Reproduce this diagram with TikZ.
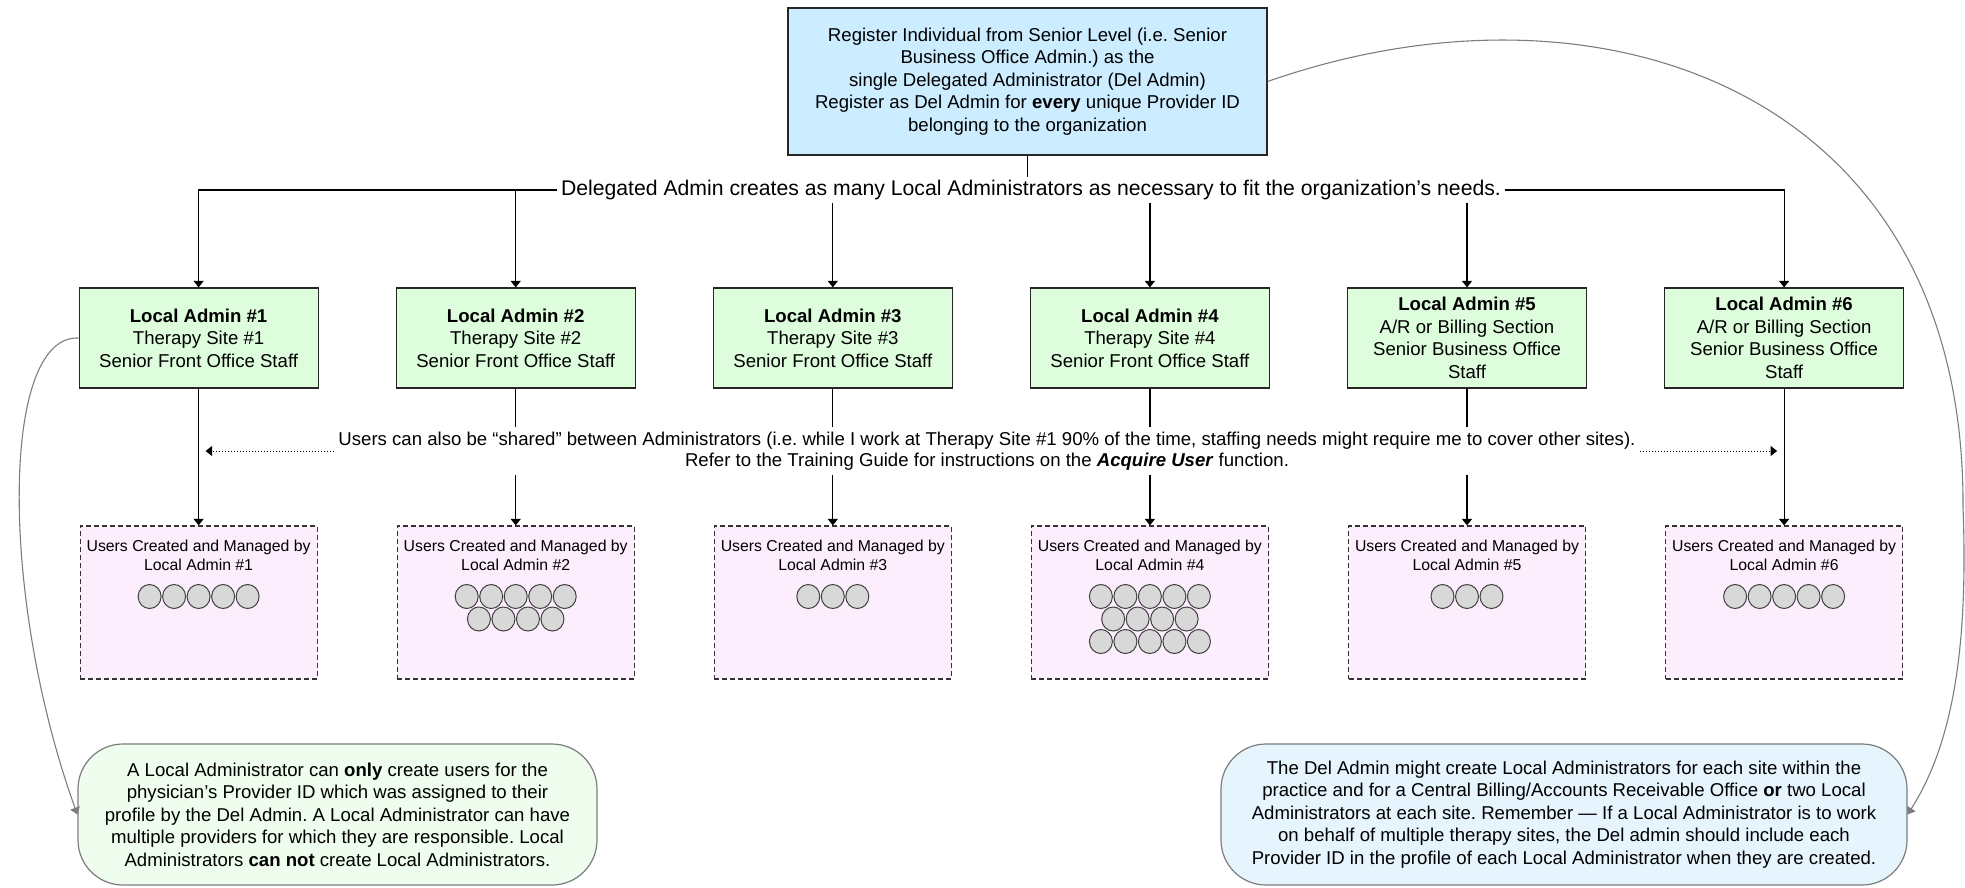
\documentclass[tikz,border=0pt]{standalone}
\usepackage{fontspec}
\setmainfont{Liberation Sans}
\usetikzlibrary{arrows.meta}
\definecolor{delblue}{RGB}{204,236,255}
\definecolor{localgreen}{RGB}{221,253,221}
\definecolor{userpink}{RGB}{253,238,253}
\definecolor{usergray}{RGB}{216,216,216}
\definecolor{notegreen}{RGB}{238,253,238}
\definecolor{noteblue}{RGB}{230,244,253}
\definecolor{curvegray}{RGB}{125,125,125}
\newcommand{\mainfs}{\fontsize{18.6pt}{22.5pt}\selectfont}
\newcommand{\smallfs}{\fontsize{15.8pt}{19pt}\selectfont}
\newcommand{\bigfs}{\fontsize{21.2pt}{25pt}\selectfont}
\frenchspacing
\tikzset{
 arr/.style={-{Triangle[width=10pt,length=6.5pt]}},
 delbox/.style={draw=black!85,fill=delblue,minimum width=479pt,minimum height=147pt,align=center,font=\mainfs},
 localbox/.style={draw=black!85,fill=localgreen,minimum width=239pt,minimum height=100pt,align=center,font=\mainfs,inner sep=2pt},
 userbox/.style={draw=black!80,dash pattern=on 5pt off 3pt,fill=userpink,minimum width=237pt,minimum height=153pt},
 usertext/.style={align=center,font=\smallfs,inner sep=0pt},
 usr/.style={draw=black!75,fill=usergray,line width=1pt},
 note/.style={draw=curvegray,rounded corners=45pt,align=center,font=\mainfs,minimum height=141pt},
 curve/.style={draw=curvegray,line width=1.1pt,-{Triangle[width=10pt,length=7pt]}}
}
\begin{document}
\begin{tikzpicture}[x=1pt,y=-1pt,line width=1.2pt]
 \useasboundingbox (0,0) rectangle (1965,887);
 \node[delbox] (del) at (1027.5,81.5) {Register Individual from Senior Level (i.e. Senior\\Business Office Admin.) as the\\single Delegated Administrator (Del Admin)\\Register as Del Admin for \textbf{every} unique Provider ID\\belonging to the organization};
 \node[font=\bigfs,inner sep=3pt] (creates) at (1031,190) {Delegated Admin creates as many Local Administrators as necessary to fit the organization’s needs.};

 \node[localbox] (la1) at (198.6,338) {\textbf{Local Admin \#1}\\Therapy Site \#1\\Senior Front Office Staff};
 \node[localbox] (la2) at (515.7,338) {\textbf{Local Admin \#2}\\Therapy Site \#2\\Senior Front Office Staff};
 \node[localbox] (la3) at (832.8,338) {\textbf{Local Admin \#3}\\Therapy Site \#3\\Senior Front Office Staff};
 \node[localbox] (la4) at (1149.9,338) {\textbf{Local Admin \#4}\\Therapy Site \#4\\Senior Front Office Staff};
 \node[localbox] (la5) at (1467,338) {\textbf{Local Admin \#5}\\A/R or Billing Section\\Senior Business Office\\Staff};
 \node[localbox] (la6) at (1784.1,338) {\textbf{Local Admin \#6}\\A/R or Billing Section\\Senior Business Office\\Staff};

 \node[userbox] (ub1) at (198.6,602.5) {};
 \node[userbox] (ub2) at (515.7,602.5) {};
 \node[userbox] (ub3) at (832.8,602.5) {};
 \node[userbox] (ub4) at (1149.9,602.5) {};
 \node[userbox] (ub5) at (1467,602.5) {};
 \node[userbox] (ub6) at (1784.1,602.5) {};
 \node[usertext] (ut1) at (198.6,555.5) {Users Created and Managed by\\Local Admin \#1};
 \node[usertext] (ut2) at (515.7,555.5) {Users Created and Managed by\\Local Admin \#2};
 \node[usertext] (ut3) at (832.8,555.5) {Users Created and Managed by\\Local Admin \#3};
 \node[usertext] (ut4) at (1149.9,555.5) {Users Created and Managed by\\Local Admin \#4};
 \node[usertext] (ut5) at (1467,555.5) {Users Created and Managed by\\Local Admin \#5};
 \node[usertext] (ut6) at (1784.1,555.5) {Users Created and Managed by\\Local Admin \#6};

 \foreach \k in {-2,...,2} \draw[usr] (198.6+24.5*\k,596.5) ellipse [x radius=11.5pt,y radius=12pt];
 \foreach \k in {-2,...,2} \draw[usr] (515.7+24.5*\k,596.5) ellipse [x radius=11.5pt,y radius=12pt];
 \foreach \k in {-1.5,-0.5,0.5,1.5} \draw[usr] (515.7+24.5*\k,619) ellipse [x radius=11.5pt,y radius=12pt];
 \foreach \k in {-1,0,1} \draw[usr] (832.8+24.5*\k,596.5) ellipse [x radius=11.5pt,y radius=12pt];
 \foreach \k in {-2,...,2} \draw[usr] (1149.9+24.5*\k,596.5) ellipse [x radius=11.5pt,y radius=12pt];
 \foreach \k in {-1.5,-0.5,0.5,1.5} \draw[usr] (1149.9+24.5*\k,619) ellipse [x radius=11.5pt,y radius=12pt];
 \foreach \k in {-2,...,2} \draw[usr] (1149.9+24.5*\k,641.5) ellipse [x radius=11.5pt,y radius=12pt];
 \foreach \k in {-1,0,1} \draw[usr] (1467+24.5*\k,596.5) ellipse [x radius=11.5pt,y radius=12pt];
 \foreach \k in {-2,...,2} \draw[usr] (1784.1+24.5*\k,596.5) ellipse [x radius=11.5pt,y radius=12pt];

 \node[align=center,font=\fontsize{18.6pt}{21pt}\selectfont,inner sep=4pt] (shared) at (987,451) {Users can also be “shared” between Administrators (i.e. while I work at Therapy Site \#1 90\% of the time, staffing needs might require me to cover other sites).\\Refer to the Training Guide for instructions on the \textbf{\textit{Acquire User}} function.};

 \node[note,fill=notegreen,minimum width=519pt] (lnote) at (337.5,814.5) {A Local Administrator can \textbf{only} create users for the\\physician’s Provider ID which was assigned to their\\profile by the Del Admin. A Local Administrator can have\\multiple providers for which they are responsible. Local\\Administrators \textbf{can not} create Local Administrators.};
 \node[note,fill=noteblue,minimum width=686pt] (rnote) at (1564,814.5) {The Del Admin might create Local Administrators for each site within the\\practice and for a Central Billing/Accounts Receivable Office \textbf{or} two Local\\Administrators at each site. Remember — If a Local Administrator is to work\\on behalf of multiple therapy sites, the Del admin should include each\\Provider ID in the profile of each Local Administrator when they are created.};

 \draw (del.south) -- (del.south |- creates.north);
 \draw[arr] (creates.west) -| (la1);
 \draw[arr] (creates.west) -| (la2);
 \draw[arr] (creates.south -| la3) -- (la3);
 \draw[arr] (creates.south -| la4) -- (la4);
 \draw[arr] (creates.south -| la5) -- (la5);
 \draw[arr] (creates.east) -| (la6);

 \draw[arr] (la1) -- (ub1);
 \draw (la2) -- (la2 |- shared.north);
 \draw[arr] (la2 |- shared.south) -- (ub2);
 \draw (la3) -- (la3 |- shared.north);
 \draw[arr] (la3 |- shared.south) -- (ub3);
 \draw (la4) -- (la4 |- shared.north);
 \draw[arr] (la4 |- shared.south) -- (ub4);
 \draw (la5) -- (la5 |- shared.north);
 \draw[arr] (la5 |- shared.south) -- (ub5);
 \draw[arr] (la6) -- (ub6);

 \draw[dotted,line width=1pt,arr,shorten >=7pt] (shared.west) -- (la1 |- shared.west);
 \draw[dotted,line width=1pt,arr,shorten >=7pt] (shared.east) -- (la6 |- shared.east);

 \draw[curve] (la1.west) .. controls (0,335) and (0,600) .. (lnote.west);
 \draw[curve] (del.east) .. controls (1600,-35) and (1965,90) .. (1963,507) .. controls (1968,640) and (1955,740) .. (rnote.east);
\end{tikzpicture}
\end{document}
